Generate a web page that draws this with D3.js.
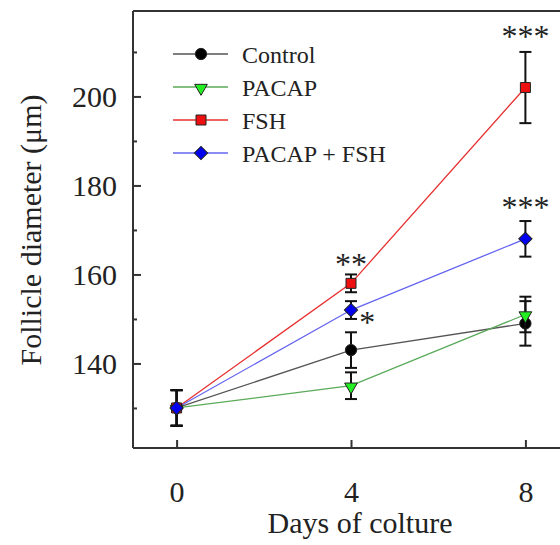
<!DOCTYPE html>
<html>
<head>
<meta charset="utf-8">
<script src="https://cdn.jsdelivr.net/npm/d3@7"></script>
<style>
  body { margin: 0; background: #fff; }
  text { font-family: "Liberation Serif", "Times New Roman", serif; fill: #222; }
</style>
</head>
<body>
<div id="chart"></div>
<script>
// data
var days = [0, 4, 8];
var seriesNames = ["Control", "PACAP", "FSH", "PACAP + FSH"];
var controlMean = [130, 143, 149];
var controlErr = [4, 4, 5];
var pacapMean = [130, 135, 151];
var pacapErr = [4, 3, 4];
var fshMean = [130, 158, 202];
var fshErr = [4, 2, 8];
var pacapFshMean = [130, 152, 168];
var pacapFshErr = [4, 2, 4];
var yMajorTicks = [140, 160, 180, 200];
var yMinorTicks = [130, 150, 170, 190, 210];

// significance marks (day, value at centre of the stars)
var starText = ["**", "*", "***", "***"];
var starDay = [4, 4.37, 8, 8];
var starValue = [163.3, 150.3, 214.5, 176.1];

var width = 560, height = 545;
var plotLeft = 133, plotTop = 11, plotRight = 569, plotBottom = 448;

var svg = d3.select("#chart")
    .append("svg")
    .attr("width", width)
    .attr("height", height);

// scales
var x = d3.scaleLinear().domain([-1, 9]).range([plotLeft, plotRight]);
var y = d3.scaleLinear().domain([121, 219.2]).range([plotBottom, plotTop]);

var styles = [
    { line: "#555", fill: "#000", shape: "circle" },
    { line: "#5aaa5a", fill: "#22ee22", shape: "tri" },
    { line: "#e83030", fill: "#ee1010", shape: "square" },
    { line: "#6464f0", fill: "#0000ee", shape: "diamond" }
];
var means = [controlMean, pacapMean, fshMean, pacapFshMean];
var errs = [controlErr, pacapErr, fshErr, pacapFshErr];

var series = seriesNames.map(function (name, i) {
    return {
        name: name,
        style: styles[i],
        values: days.map(function (d, j) {
            return { day: d, mean: means[i][j], err: errs[i][j] };
        })
    };
});

function symbolPath(shape) {
    if (shape === "circle") return d3.symbol().type(d3.symbolCircle).size(100)();
    if (shape === "tri") return d3.symbol().type(d3.symbolTriangle).size(70)();
    return d3.symbol().type(d3.symbolSquare).size(shape === "square" ? 100 : 88)();
}
function symbolTransform(shape, px, py) {
    if (shape === "tri") return "translate(" + px + "," + (py + 1) + ") rotate(180)";
    if (shape === "diamond") return "translate(" + px + "," + py + ") rotate(45)";
    return "translate(" + px + "," + py + ")";
}

// frame
var frame = svg.append("g").attr("fill", "none").attr("stroke", "#333").attr("stroke-width", 2);
frame.append("line").attr("x1", x(-1)).attr("x2", x(-1)).attr("y1", y(219.2)).attr("y2", y(121));
frame.append("line").attr("x1", x(-1)).attr("x2", x(9)).attr("y1", y(219.2)).attr("y2", y(219.2));
frame.append("line").attr("x1", x(-1)).attr("x2", x(9)).attr("y1", y(121)).attr("y2", y(121));
frame.append("line").attr("x1", x(9)).attr("x2", x(9)).attr("y1", y(219.2)).attr("y2", y(121));

// x axis
var xAxis = svg.append("g")
    .attr("transform", "translate(0," + plotBottom + ")")
    .call(d3.axisBottom(x).tickValues(days).tickSizeInner(-8).tickSizeOuter(0).tickPadding(33));
xAxis.select(".domain").remove();
xAxis.selectAll("line").attr("stroke", "#333").attr("stroke-width", 2);
xAxis.selectAll("text").style("font-size", "30px").attr("fill", "#222");

// y axis
var yAxis = svg.append("g")
    .attr("transform", "translate(" + plotLeft + ",0)")
    .call(d3.axisLeft(y).tickValues(yMajorTicks).tickSizeInner(-8).tickSizeOuter(0).tickPadding(16));
yAxis.select(".domain").remove();
yAxis.selectAll("line").attr("stroke", "#333").attr("stroke-width", 2);
yAxis.selectAll("text").style("font-size", "30px").attr("fill", "#222");

var yMinor = svg.append("g")
    .attr("transform", "translate(" + plotLeft + ",0)")
    .call(d3.axisLeft(y).tickValues(yMinorTicks).tickSizeInner(-4).tickSizeOuter(0).tickFormat(""));
yMinor.select(".domain").remove();
yMinor.selectAll("line").attr("stroke", "#333").attr("stroke-width", 2);

// axis titles
svg.append("text")
    .attr("x", 360)
    .attr("y", 533)
    .attr("text-anchor", "middle")
    .style("font-size", "30px")
    .text("Days of colture");

svg.append("text")
    .attr("transform", "translate(41,230) rotate(-90)")
    .attr("text-anchor", "middle")
    .style("font-size", "30px")
    .text("Follicle diameter (\u03bcm)");

// lines
var line = d3.line()
    .x(function (d) { return x(d.day); })
    .y(function (d) { return y(d.mean); });

series.forEach(function (s) {
    svg.append("path")
        .datum(s.values)
        .attr("fill", "none")
        .attr("stroke", s.style.line)
        .attr("stroke-width", 1.3)
        .attr("d", line);
});

// error bars and markers
series.forEach(function (s) {
    var g = svg.append("g");
    var eb = g.selectAll(".eb").data(s.values).enter().append("g")
        .attr("stroke", "#111").attr("stroke-width", 2);
    eb.append("line")
        .attr("x1", function (d) { return x(d.day); })
        .attr("x2", function (d) { return x(d.day); })
        .attr("y1", function (d) { return y(d.mean - d.err); })
        .attr("y2", function (d) { return y(d.mean + d.err); });
    [-1, 1].forEach(function (sign) {
        eb.append("line")
            .attr("x1", function (d) { return x(d.day) - 6; })
            .attr("x2", function (d) { return x(d.day) + 6; })
            .attr("y1", function (d) { return y(d.mean + sign * d.err); })
            .attr("y2", function (d) { return y(d.mean + sign * d.err); });
    });
    g.selectAll(".mk").data(s.values).enter().append("path")
        .attr("d", symbolPath(s.style.shape))
        .attr("transform", function (d) { return symbolTransform(s.style.shape, x(d.day), y(d.mean)); })
        .attr("fill", s.style.fill)
        .attr("stroke", "#222")
        .attr("stroke-width", 1);
});

// significance stars
svg.selectAll(".star").data(starText).enter().append("text")
    .attr("x", function (d, i) { return x(starDay[i]); })
    .attr("y", function (d, i) { return y(starValue[i]); })
    .attr("dy", 15)
    .attr("text-anchor", "middle")
    .style("font-size", "32px")
    .text(function (d) { return d; });

// legend
var legend = svg.append("g");
series.forEach(function (s, i) {
    var ly = 54 + i * 33;
    legend.append("line")
        .attr("x1", 173).attr("x2", 228)
        .attr("y1", ly).attr("y2", ly)
        .attr("stroke", s.style.line)
        .attr("stroke-width", 1.3);
    legend.append("path")
        .attr("d", symbolPath(s.style.shape))
        .attr("transform", symbolTransform(s.style.shape, 201, ly))
        .attr("fill", s.style.fill)
        .attr("stroke", "#222")
        .attr("stroke-width", 1);
    legend.append("text")
        .attr("x", 242)
        .attr("y", ly + 9)
        .style("font-size", "24px")
        .text(s.name);
});
</script>
</body>
</html>
